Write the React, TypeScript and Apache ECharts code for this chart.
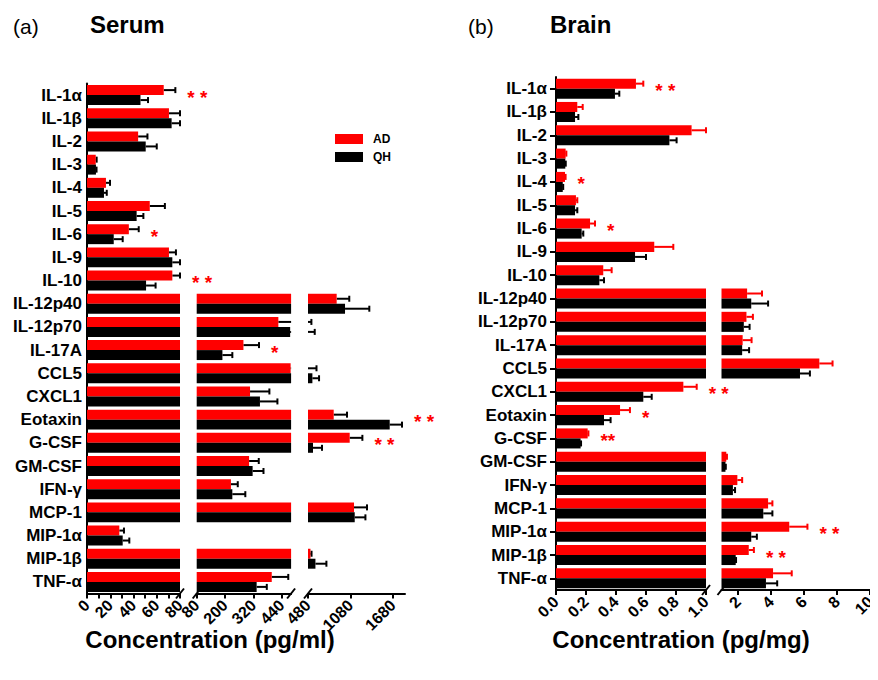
import React, { useEffect, useRef } from 'react';
import * as echarts from 'echarts';

const categories = ['IL-1α', 'IL-1β', 'IL-2', 'IL-3', 'IL-4', 'IL-5', 'IL-6', 'IL-9', 'IL-10', 'IL-12p40', 'IL-12p70', 'IL-17A', 'CCL5', 'CXCL1', 'Eotaxin', 'G-CSF', 'GM-CSF', 'IFN-γ', 'MCP-1', 'MIP-1α', 'MIP-1β', 'TNF-α'];

// Serum (pg/ml)
const serumAD = [66, 70.5, 44, 7.5, 16.3, 54, 36, 70.5, 73.4, 885, 426, 278, 478, 306, 843, 1069, 302, 225, 1130, 27.8, 515, 398];
const serumADErr = [10, 9.5, 8, 0.8, 3.5, 13, 8.5, 6, 6.6, 178, 102, 66, 122, 82, 188, 179, 41, 29, 183, 4, 15, 70];
const serumQH = [46, 72.8, 50.5, 7.7, 14.6, 42.7, 23, 73.4, 50.8, 1003, 476, 189, 542, 348, 1634, 551, 317, 231, 1140, 30.7, 585, 334];
const serumQHErr = [6.5, 7.2, 9.5, 0.5, 2.4, 5.8, 7.7, 6.6, 8.2, 343, 99, 42, 94, 74, 174, 127, 46, 55, 151, 5.7, 155, 43];
const serumStars = ['* *', '', '', '', '', '', '*', '', '* *', '', '', '*', '', '', '* *', '* *', '', '', '', '', '', ''];

// Brain (pg/mg)
const brainAD = [0.533, 0.142, 0.904, 0.064, 0.06, 0.133, 0.227, 0.655, 0.315, 2.55, 2.51, 2.28, 6.92, 0.849, 0.427, 0.211, 1.29, 1.96, 3.82, 5.1, 2.65, 4.12];
const brainADErr = [0.049, 0.036, 0.096, 0.005, 0.004, 0.009, 0.033, 0.127, 0.056, 0.9, 0.39, 0.54, 0.8, 0.089, 0.066, 0.005, 0.04, 0.29, 0.26, 1.1, 0.31, 1.13];
const brainQH = [0.393, 0.127, 0.756, 0.062, 0.045, 0.127, 0.171, 0.527, 0.289, 2.8, 2.35, 2.25, 5.75, 0.582, 0.32, 0.164, 1.24, 1.69, 3.53, 2.8, 1.86, 3.69];
const brainQHErr = [0.029, 0.022, 0.048, 0.003, 0.003, 0.015, 0.011, 0.073, 0.031, 1.02, 0.35, 0.42, 0.6, 0.056, 0.044, 0.003, 0.02, 0.13, 0.55, 0.34, 0.02, 0.68];
const brainStars = ['* *', '', '', '', '*', '', '*', '', '', '', '', '', '', '* *', '*', '**', '', '', '', '* *', '* *', ''];

// Broken axis segments and their ticks / labels
const serumSegments = [[0, 80], [80, 480], [480, 1850]];
const serumTicks = [[0, 10, 20, 30, 40, 50, 60, 70, 80], [80, 200, 320, 440], [480, 1080, 1680]];
const serumTickLabels = [[0, 20, 40, 60, 80], [80, 200, 320, 440], [480, 1080, 1680]];
const brainSegments = [[0, 1], [1, 10]];
const brainTicks = [[0, 0.2, 0.4, 0.6, 0.8, 1.0], [2, 4, 6, 8, 10]];
const brainTickLabels = [[0, 0.2, 0.4, 0.6, 0.8, 1.0], [2, 4, 6, 8, 10]];

const FONT = 'Liberation Sans, Arial, Helvetica, sans-serif';
const RED = '#ff0000';
const BLACK = '#000000';

const SERUM_TOP = 83.5;
const SERUM_H = 510;
const SERUM_LEFTS = [87, 196.7, 308];
const SERUM_WIDTHS = [93, 94.4, 97];
const BRAIN_TOP = 77;
const BRAIN_H = 513;
const BRAIN_LEFTS = [556, 721.5];
const BRAIN_WIDTHS = [150, 151.2];
const BAR_FRAC = 0.43;

function buildOption() {
  const grid: any[] = [];
  const xAxis: any[] = [];
  const yAxis: any[] = [];
  const series: any[] = [];

  const panels = [
    {
      key: 'serum', segs: serumSegments, ticks: serumTicks, labels: serumTickLabels,
      lefts: SERUM_LEFTS, widths: SERUM_WIDTHS, top: SERUM_TOP, height: SERUM_H,
      ad: serumAD, adErr: serumADErr, qh: serumQH, qhErr: serumQHErr, stars: serumStars,
      adErrColor: BLACK, fmt: (v: number) => String(v), yTicks: false, yMargin: 5,
    },
    {
      key: 'brain', segs: brainSegments, ticks: brainTicks, labels: brainTickLabels,
      lefts: BRAIN_LEFTS, widths: BRAIN_WIDTHS, top: BRAIN_TOP, height: BRAIN_H,
      ad: brainAD, adErr: brainADErr, qh: brainQH, qhErr: brainQHErr, stars: brainStars,
      adErrColor: RED, fmt: (v: number) => (v <= 1 ? v.toFixed(1) : String(v)), yTicks: true, yMargin: 9,
    },
  ];

  panels.forEach((p) => {
    const adEnd = p.ad.map((v, k) => v + p.adErr[k]);
    const qhEnd = p.qh.map((v, k) => v + p.qhErr[k]);
    const anchor = adEnd.map((e, k) => Math.max(e, qhEnd[k]));

    p.segs.forEach((seg, s) => {
      const gi = grid.length;
      const [mn, mx] = seg;
      grid.push({ left: p.lefts[s], width: p.widths[s], top: p.top, height: p.height, containLabel: false });
      xAxis.push({
        type: 'value', gridIndex: gi, min: mn, max: mx,
        axisLine: { show: true, lineStyle: { color: BLACK, width: 2 } },
        axisTick: { show: true, length: 5, lineStyle: { color: BLACK, width: 2 }, customValues: p.ticks[s] },
        axisLabel: {
          customValues: p.labels[s], rotate: 45, color: BLACK, fontSize: 16, fontWeight: 'bold',
          fontFamily: FONT, margin: 9, formatter: (v: number) => p.fmt(v),
        },
        splitLine: { show: false },
      });
      const first = s === 0;
      yAxis.push({
        type: 'category', gridIndex: gi, data: categories, inverse: true,
        axisLine: { show: first, lineStyle: { color: BLACK, width: 2 } },
        axisTick: { show: first && p.yTicks, alignWithLabel: true, length: 6, lineStyle: { color: BLACK, width: 2 } },
        axisLabel: { show: first, color: BLACK, fontSize: 17, fontWeight: 'bold', fontFamily: FONT, margin: p.yMargin },
        splitLine: { show: false },
      });

      const groups = [
        { name: 'AD', vals: p.ad, ends: adEnd, color: RED, errColor: p.adErrColor, dir: -1 },
        { name: 'QH', vals: p.qh, ends: qhEnd, color: BLACK, errColor: BLACK, dir: 1 },
      ];
      groups.forEach((g) => {
        series.push({
          type: 'bar', name: g.name, xAxisIndex: gi, yAxisIndex: gi,
          data: g.vals.map((v) => (v > mn ? v : '-')),
          itemStyle: { color: g.color },
          barGap: '0%', barCategoryGap: '14%', clip: true, silent: true,
        });
      });
      groups.forEach((g) => {
        series.push({
          type: 'custom', xAxisIndex: gi, yAxisIndex: gi, silent: true,
          data: g.vals.map((v, k) => [k, v, g.ends[k]]),
          encode: { y: 0, x: [1, 2] },
          renderItem: (params: any, api: any) => {
            const k = api.value(0);
            const v = api.value(1);
            const end = api.value(2);
            if (v >= mx || end <= mn) return null;
            const lo = Math.max(v, mn);
            const hi = Math.min(end, mx);
            const p0 = api.coord([lo, k]);
            const p1 = api.coord([hi, k]);
            const band = api.size([0, 1])[1];
            const y = p0[1] + g.dir * band * BAR_FRAC / 2;
            const children: any[] = [
              { type: 'line', shape: { x1: p0[0], y1: y, x2: p1[0], y2: y }, style: { stroke: g.errColor, lineWidth: 2 } },
            ];
            if (end <= mx) {
              children.push({ type: 'line', shape: { x1: p1[0], y1: y - 3, x2: p1[0], y2: y + 3 }, style: { stroke: g.errColor, lineWidth: 2 } });
            }
            return { type: 'group', children };
          },
        });
      });

      // significance stars belonging to this segment
      const starData: any[] = [];
      anchor.forEach((a, k) => {
        if (!p.stars[k]) return;
        const segIdx = p.segs.findIndex((sg) => a <= sg[1]);
        if (segIdx === s) starData.push([k, a]);
      });
      if (starData.length) {
        series.push({
          type: 'custom', xAxisIndex: gi, yAxisIndex: gi, silent: true,
          data: starData, encode: { y: 0, x: 1 },
          renderItem: (params: any, api: any) => {
            const k = api.value(0);
            const a = api.value(1);
            const pt = api.coord([a, k]);
            return {
              type: 'text', x: pt[0] + 12, y: pt[1] + 2,
              style: { text: p.stars[k], fill: RED, font: `bold 19px ${FONT}`, align: 'left', verticalAlign: 'middle' },
            };
          },
        });
      }
    });
  });

  const serumAxisY = SERUM_TOP + SERUM_H;
  const brainAxisY = BRAIN_TOP + BRAIN_H;
  const breakXs = [
    [SERUM_LEFTS[0] + SERUM_WIDTHS[0], serumAxisY], [SERUM_LEFTS[1], serumAxisY],
    [SERUM_LEFTS[1] + SERUM_WIDTHS[1], serumAxisY], [SERUM_LEFTS[2], serumAxisY],
    [BRAIN_LEFTS[0] + BRAIN_WIDTHS[0], brainAxisY], [BRAIN_LEFTS[1], brainAxisY],
  ];
  const breaks = breakXs.map(([x, y]) => ({
    type: 'line', shape: { x1: x - 4, y1: y + 5, x2: x + 4, y2: y - 5 },
    style: { stroke: BLACK, lineWidth: 2 },
  }));

  const graphic: any[] = [
    ...breaks,
    { type: 'text', x: 13, y: 26, style: { text: '(a)', fill: BLACK, font: `21px ${FONT}`, verticalAlign: 'middle' } },
    { type: 'text', x: 90, y: 24, style: { text: 'Serum', fill: BLACK, font: `bold 24px ${FONT}`, verticalAlign: 'middle' } },
    { type: 'text', x: 468, y: 26, style: { text: '(b)', fill: BLACK, font: `21px ${FONT}`, verticalAlign: 'middle' } },
    { type: 'text', x: 550, y: 24, style: { text: 'Brain', fill: BLACK, font: `bold 24px ${FONT}`, verticalAlign: 'middle' } },
    { type: 'text', x: 210, y: 639, style: { text: 'Concentration (pg/ml)', fill: BLACK, font: `bold 24px ${FONT}`, align: 'center', verticalAlign: 'middle' } },
    { type: 'text', x: 681, y: 639, style: { text: 'Concentration (pg/mg)', fill: BLACK, font: `bold 24px ${FONT}`, align: 'center', verticalAlign: 'middle' } },
  ];

  return {
    animation: false,
    backgroundColor: '#ffffff',
    textStyle: { fontFamily: FONT },
    grid, xAxis, yAxis, series, graphic,
    legend: {
      data: ['AD', 'QH'], orient: 'vertical', left: 330, top: 128,
      itemWidth: 28, itemHeight: 10, itemGap: 6, icon: 'rect', selectedMode: false,
      textStyle: { fontSize: 12, fontWeight: 'bold', color: BLACK, fontFamily: FONT, padding: [0, 0, 0, 5] },
    },
  };
}

export default function App() {
  const ref = useRef<HTMLDivElement>(null);
  useEffect(() => {
    if (!ref.current) return;
    const chart = echarts.init(ref.current, undefined, { renderer: 'svg' });
    chart.setOption(buildOption() as any);
    return () => chart.dispose();
  }, []);
  return <div ref={ref} style={{ width: 878, height: 680, margin: -8 }} />;
}
